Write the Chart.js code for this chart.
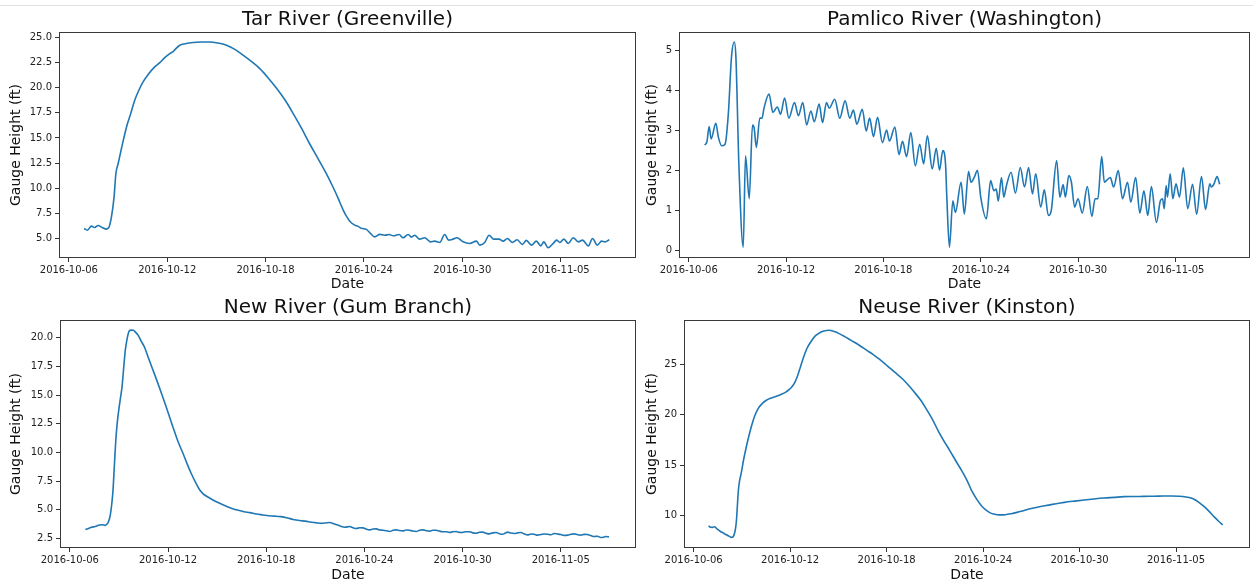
<!DOCTYPE html>
<html>
<head>
<meta charset="utf-8">
<script src="https://cdn.jsdelivr.net/npm/chart.js@4.4.1/dist/chart.umd.min.js"></script>
<style>
  html, body { margin: 0; padding: 0; background: #ffffff; }
  body { width: 1253px; height: 585px; position: relative; overflow: hidden; }
  .topline { position: absolute; left: 0; top: 5px; width: 1253px; height: 1px; background: #e2e2e2; }
  canvas { position: absolute; }
</style>
</head>
<body>
<div class="topline"></div>
<canvas id="c1" width="640" height="293" style="left:0px;top:0px;"></canvas>
<canvas id="c2" width="617" height="293" style="left:636px;top:0px;"></canvas>
<canvas id="c3" width="640" height="293" style="left:0px;top:292px;"></canvas>
<canvas id="c4" width="617" height="293" style="left:636px;top:292px;"></canvas>
<script>
// ---- shared x axis: days since 2016-10-06 ----
const dateTickDays = [0, 6, 12, 18, 24, 30];
const dateTickLabels = ['2016-10-06', '2016-10-12', '2016-10-18', '2016-10-24', '2016-10-30', '2016-11-05'];

// ---- Tar River (Greenville) ----
const tarDays = [0.93,1.13,1.38,1.58,1.79,2.03,2.29,2.44,2.6,2.76,2.87,3.01,3.21,3.52,3.77,4.02,4.27,4.53,4.85,5.24,5.55,5.85,6.16,6.36,6.5,6.77,7.1,7.58,8.1,8.6,9.1,9.62,10.1,10.63,11.15,11.65,12.15,12.67,13.2,13.68,14.2,14.7,15.2,15.71,16.0,16.32,16.53,16.73,16.94,17.14,17.44,17.65,17.85,18.15,18.4,18.66,18.97,19.27,19.54,19.78,20.15,20.39,20.7,20.9,21.1,21.4,21.71,22.06,22.32,22.63,22.93,23.17,23.44,23.68,24.05,24.46,24.86,25.07,25.37,25.64,25.92,26.25,26.49,26.76,27.06,27.35,27.67,27.91,28.22,28.52,28.79,28.98,29.24,29.55,29.75,29.96,30.2,30.47,30.77,31.08,31.34,31.69,31.95,32.24,32.5,32.71,32.97];
const tarHeight = [5.99,5.82,6.22,6.09,6.29,6.09,5.92,6.09,7.15,9.14,11.46,12.46,13.95,16.1,17.4,18.76,19.75,20.58,21.35,22.08,22.5,23.0,23.4,23.6,23.85,24.23,24.38,24.5,24.55,24.56,24.45,24.23,23.85,23.24,22.6,21.9,21.0,19.95,18.75,17.45,15.95,14.4,12.95,11.45,10.5,9.4,8.6,7.85,7.2,6.7,6.32,6.2,6.0,5.9,5.5,5.15,5.4,5.32,5.39,5.26,5.39,5.06,5.39,5.13,5.32,4.93,5.06,4.66,4.73,4.6,5.39,4.83,4.93,5.06,4.66,4.5,4.73,4.33,4.6,5.32,4.93,4.93,4.73,4.99,4.6,4.86,4.4,4.8,4.33,4.73,4.26,4.66,4.07,4.5,4.83,4.6,4.93,4.5,5.06,4.66,4.83,4.26,4.99,4.33,4.73,4.66,4.86];
const tarTicks = [5.0, 7.5, 10.0, 12.5, 15.0, 17.5, 20.0, 22.5, 25.0];

// ---- Pamlico River (Washington) ----
const pamDays = [0.98,1.12,1.26,1.38,1.67,1.83,2.03,2.24,2.44,2.64,2.81,2.91,3.09,3.36,3.5,3.73,3.93,4.03,4.17,4.38,4.52,4.64,4.95,5.19,5.46,5.66,5.91,6.17,6.52,6.76,7.03,7.27,7.53,7.74,8.04,8.25,8.49,8.66,9.0,9.31,9.64,9.93,10.15,10.36,10.7,10.94,11.15,11.39,11.64,11.94,12.2,12.37,12.71,12.96,13.18,13.43,13.69,13.97,14.24,14.48,14.71,15.01,15.26,15.46,15.66,15.83,15.91,16.07,16.28,16.44,16.79,16.99,17.25,17.4,17.6,17.8,18.0,18.35,18.61,18.81,18.96,19.08,19.28,19.42,19.57,19.87,20.14,20.44,20.7,20.95,21.19,21.39,21.7,21.92,22.17,22.35,22.68,22.88,23.08,23.22,23.43,23.59,23.79,24.0,24.26,24.57,24.85,25.05,25.22,25.46,25.62,25.79,25.99,26.19,26.48,26.74,27.05,27.25,27.55,27.81,28.06,28.3,28.52,28.83,29.07,29.21,29.31,29.43,29.51,29.68,29.84,30.04,30.25,30.49,30.76,31.06,31.31,31.61,31.86,32.12,32.22,32.37,32.57,32.73];
const pamHeight = [2.63,2.71,3.09,2.78,3.17,2.82,2.61,2.65,3.40,4.85,5.2,4.8,2.16,0.08,2.36,1.29,3.13,3.06,2.57,3.30,3.30,3.55,3.90,3.44,3.58,3.40,3.80,3.30,3.69,3.36,3.69,3.13,3.48,3.21,3.65,3.19,3.69,3.55,3.77,3.30,3.73,3.30,3.50,3.15,3.52,2.98,3.30,2.84,3.32,2.69,3.0,2.73,3.08,2.39,2.72,2.34,2.94,2.11,2.65,2.16,2.86,2.03,2.55,2.0,2.49,2.16,1.33,0.08,1.24,0.95,1.70,0.91,1.97,1.70,1.82,2.0,1.33,0.79,1.74,1.49,1.53,1.23,1.82,1.33,1.59,1.95,1.43,2.07,1.58,2.07,1.41,1.91,1.08,1.51,0.87,1.0,2.24,1.33,1.64,1.33,1.87,1.70,1.08,1.29,0.93,1.59,0.85,1.29,1.29,2.34,1.70,1.76,1.82,1.58,1.99,1.29,1.70,1.20,1.82,0.93,1.49,0.87,1.59,0.70,1.23,1.29,1.04,1.62,1.33,1.91,1.29,1.66,1.33,2.06,1.04,1.65,0.90,1.84,1.02,1.66,1.58,1.65,1.84,1.65];
const pamTicks = [0, 1, 2, 3, 4, 5];

// ---- New River (Gum Branch) ----
const newDays = [0.95,1.1,1.32,1.55,1.82,2.0,2.14,2.31,2.42,2.49,2.57,2.64,2.72,2.81,2.9,2.99,3.1,3.19,3.3,3.39,3.5,3.63,3.75,3.88,4.0,4.18,4.36,4.56,4.8,5.05,5.35,5.68,6.0,6.3,6.6,6.92,7.2,7.42,7.7,7.92,8.15,8.41,8.8,9.16,9.5,9.91,10.3,10.65,11.0,11.4,11.8,12.15,12.5,12.9,13.3,13.64,14.05,14.4,14.76,15.1,15.37,15.6,15.88,16.1,16.33,16.55,16.8,17.1,17.3,17.51,17.72,17.92,18.1,18.32,18.53,18.73,18.95,19.14,19.35,19.54,19.75,19.95,20.15,20.35,20.55,20.76,20.95,21.17,21.37,21.57,21.78,21.98,22.18,22.39,22.6,22.79,23.0,23.2,23.4,23.61,23.8,24.01,24.2,24.42,24.62,24.83,25.03,25.23,25.44,25.64,25.85,26.05,26.25,26.45,26.6,26.76,26.96,27.16,27.37,27.57,27.78,27.98,28.18,28.38,28.58,28.79,29.0,29.2,29.4,29.6,29.8,30.01,30.2,30.42,30.62,30.82,31.03,31.23,31.43,31.63,31.84,32.04,32.25,32.45,32.6,32.75,32.95];
const newHeight = [3.30,3.35,3.48,3.55,3.68,3.7,3.65,3.83,4.2,4.70,5.6,6.72,8.8,11.07,12.6,13.68,14.8,15.71,17.5,18.9,19.9,20.58,20.66,20.64,20.5,20.2,19.7,19.19,18.25,17.3,16.15,14.84,13.5,12.23,11.0,9.91,8.9,8.17,7.35,6.78,6.4,6.14,5.82,5.57,5.36,5.13,4.96,4.84,4.76,4.64,4.56,4.49,4.46,4.41,4.3,4.17,4.07,4.02,3.93,3.87,3.84,3.86,3.9,3.82,3.7,3.58,3.49,3.55,3.45,3.38,3.44,3.43,3.33,3.26,3.33,3.35,3.25,3.23,3.18,3.12,3.22,3.26,3.2,3.17,3.25,3.23,3.16,3.12,3.22,3.26,3.18,3.15,3.22,3.23,3.14,3.09,3.1,3.03,3.09,3.12,3.04,3.03,3.1,3.09,3.0,2.97,3.05,3.06,2.96,2.91,3.0,3.03,2.93,2.88,2.97,3.06,2.98,2.94,3.0,3.03,2.9,2.82,2.9,2.88,2.8,2.85,2.9,2.88,2.83,2.94,2.9,2.85,2.78,2.8,2.88,2.91,2.83,2.8,2.87,2.85,2.76,2.68,2.7,2.59,2.62,2.68,2.65];
const newTicks = [2.5, 5.0, 7.5, 10.0, 12.5, 15.0, 17.5, 20.0];

// ---- Neuse River (Kinston) ----
const neuDays = [0.93,1.05,1.18,1.3,1.45,1.67,1.85,2.04,2.2,2.36,2.45,2.53,2.6,2.66,2.72,2.78,2.86,2.95,3.1,3.27,3.45,3.64,3.8,4.0,4.25,4.5,4.8,5.11,5.4,5.73,5.9,6.1,6.3,6.47,6.65,6.84,7.05,7.28,7.55,7.82,8.1,8.43,8.75,9.05,9.4,9.79,10.3,10.77,11.15,11.51,11.9,12.25,12.6,12.98,13.35,13.72,14.1,14.46,14.85,15.2,15.55,15.93,16.3,16.67,17.0,17.29,17.6,17.9,18.15,18.39,18.65,18.88,19.1,19.38,19.75,20.11,20.5,20.85,21.3,21.83,22.4,23.06,23.7,24.29,24.9,25.52,26.15,26.75,27.4,27.98,28.6,29.21,29.7,30.2,30.6,30.93,31.2,31.42,31.7,31.92,32.15,32.41,32.65,32.9];
const neuHeight = [9.0,8.85,8.84,8.9,8.7,8.44,8.28,8.11,7.98,7.85,7.9,8.18,8.7,9.5,11.0,12.48,13.5,14.14,15.5,16.79,18.0,19.11,19.9,20.6,21.1,21.42,21.65,21.82,22.0,22.25,22.45,22.75,23.25,23.9,24.8,25.73,26.6,27.22,27.8,28.11,28.3,28.38,28.25,28.05,27.75,27.38,26.9,26.39,26.0,25.56,25.05,24.57,24.1,23.58,22.95,22.25,21.5,20.6,19.55,18.44,17.45,16.46,15.45,14.47,13.5,12.48,11.65,10.99,10.6,10.33,10.16,10.1,10.08,10.1,10.2,10.33,10.5,10.66,10.82,10.99,11.15,11.32,11.45,11.56,11.66,11.75,11.82,11.89,11.9,11.92,11.93,11.95,11.96,11.93,11.86,11.75,11.56,11.32,10.97,10.66,10.27,9.83,9.45,9.1];
const neuTicks = [10, 15, 20, 25];

Chart.defaults.font.family = "'DejaVu Sans', 'Liberation Sans', sans-serif";
Chart.defaults.color = '#222';

const framePlugin = {
  id: 'frame',
  afterDraw(chart) {
    const a = chart.chartArea;
    const ctx = chart.ctx;
    ctx.save();
    ctx.strokeStyle = '#3a3a3a';
    ctx.lineWidth = 1;
    ctx.strokeRect(Math.round(a.left) + 0.5, Math.round(a.top) + 0.5,
                   Math.round(a.right) - Math.round(a.left) - 1, Math.round(a.bottom) - Math.round(a.top) - 1);
    ctx.restore();
  }
};

function makeChart(id, title, days, heights, yTicks, cfg) {
  const pts = days.map((d, i) => ({ x: d, y: heights[i] }));
  return new Chart(document.getElementById(id), {
    type: 'line',
    data: { datasets: [{
      data: pts,
      borderColor: '#1f77b4',
      borderWidth: 1.6,
      pointRadius: 0,
      fill: false,
      cubicInterpolationMode: 'monotone'
    }] },
    options: {
      responsive: false,
      animation: false,
      events: [],
      layout: { padding: { left: 0, right: cfg.padRight, top: 0, bottom: 0 } },
      plugins: {
        legend: { display: false },
        tooltip: { enabled: false },
        title: {
          display: true, text: title, color: '#111', fullSize: false,
          font: { size: 20, weight: 'normal' },
          padding: { top: cfg.titleTop, bottom: cfg.titleBottom }
        }
      },
      scales: {
        x: {
          type: 'linear', min: -0.6, max: 34.6,
          afterBuildTicks: s => { s.ticks = dateTickDays.map(v => ({ value: v })); },
          afterFit: s => { s.height = cfg.xHeight; },
          ticks: {
            font: { size: 10 }, color: '#222', padding: 2, maxRotation: 0, autoSkip: false,
            callback: v => dateTickLabels[dateTickDays.indexOf(v)]
          },
          grid: { display: true, drawOnChartArea: false, drawTicks: true, tickLength: 4, tickColor: '#333' },
          border: { display: false },
          title: { display: true, text: 'Date', font: { size: 14 }, color: '#111',
                   padding: { top: 0, bottom: cfg.dateBottom } }
        },
        y: {
          type: 'linear', min: cfg.yMin, max: cfg.yMax,
          afterBuildTicks: s => { s.ticks = yTicks.map(v => ({ value: v })); },
          afterFit: s => { s.width = cfg.yWidth; },
          ticks: {
            font: { size: 10 }, color: '#222', padding: 3,
            callback: v => cfg.decimals ? v.toFixed(1) : String(v)
          },
          grid: { display: true, drawOnChartArea: false, drawTicks: true, tickLength: 4, tickColor: '#333' },
          border: { display: false },
          title: { display: true, text: 'Gauge Height (ft)', font: { size: 14 }, color: '#111',
                   padding: { top: 8, bottom: 0 } }
        }
      }
    },
    plugins: [framePlugin]
  });
}

makeChart('c1', 'Tar River (Greenville)', tarDays, tarHeight, tarTicks,
  { yMin: 3.05, yMax: 25.55, decimals: true, yWidth: 59, padRight: 4, xHeight: 35,
    titleTop: 8, titleBottom: 0, dateBottom: 0 });
makeChart('c2', 'Pamlico River (Washington)', pamDays, pamHeight, pamTicks,
  { yMin: -0.19, yMax: 5.45, decimals: false, yWidth: 43, padRight: 3, xHeight: 35,
    titleTop: 8, titleBottom: 0, dateBottom: 0 });
makeChart('c3', 'New River (Gum Branch)', newDays, newHeight, newTicks,
  { yMin: 1.68, yMax: 21.54, decimals: true, yWidth: 60, padRight: 4, xHeight: 37,
    titleTop: 3.5, titleBottom: 0.5, dateBottom: 1 });
makeChart('c4', 'Neuse River (Kinston)', neuDays, neuHeight, neuTicks,
  { yMin: 6.8, yMax: 29.4, decimals: false, yWidth: 48, padRight: 3, xHeight: 37,
    titleTop: 3.5, titleBottom: 0.5, dateBottom: 1 });
</script>
</body>
</html>
